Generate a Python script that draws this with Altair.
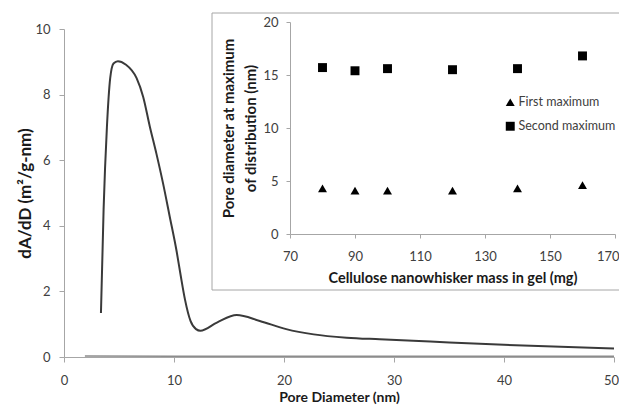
import altair as alt
import pandas as pd

# ---- main curve: pore-size distribution ----
diameter_nm = [3.36, 3.6, 3.9, 4.2, 4.5, 4.9, 5.6, 6.6, 7.2, 7.8, 8.4, 9.0, 9.6, 10.25,
               10.6, 11.0, 11.5, 12.0, 12.4, 13.9, 15.7, 17.8, 20.2, 22.7, 25.7, 28.7, 33.3, 40.0, 50.0]
dA_dD = [1.34, 4.5, 7.0, 8.5, 8.95, 9.02, 8.92, 8.5, 7.93, 7.03, 6.2, 5.3, 4.3, 3.2,
         2.5, 1.75, 1.1, 0.85, 0.80, 1.05, 1.28, 1.10, 0.85, 0.69, 0.59, 0.54, 0.47, 0.37, 0.26]

# faint near-zero trace
base_d = [1.9, 10.0, 20.0, 30.0, 40.0, 50.0]
base_v = [0.03, 0.02, 0.02, 0.02, 0.02, 0.02]

# ---- inset: pore diameter at distribution maxima ----
mass_mg = [80, 90, 100, 120, 140, 160]
first_max = [4.3, 4.1, 4.1, 4.1, 4.3, 4.6]
second_max = [15.7, 15.4, 15.6, 15.5, 15.6, 16.8]
series_names = ["First maximum", "Second maximum"]

main_xticks = [0, 10, 20, 30, 40, 50]
main_yticks = [0, 2, 4, 6, 8, 10]
inset_xticks = [70, 90, 110, 130, 150, 170]
inset_yticks = [0, 5, 10, 15, 20]

W, H = 550, 328
FONT = "Lato"
AX = "#a6a6a6"
LAB = "#404040"
TIT = "#1a1a1a"

curve_df = pd.DataFrame({"D": diameter_nm, "v": dA_dD})
base_df = pd.DataFrame({"D": base_d, "v": base_v})
inset_df = pd.DataFrame({
    "mass": mass_mg + mass_mg,
    "pore": first_max + second_max,
    "series": [series_names[0]] * len(mass_mg) + [series_names[1]] * len(mass_mg),
})


def last_right(v):
    return {"condition": {"test": f"datum.value >= {v}", "value": "right"}, "value": "center"}


def last_shift(v, px):
    return {"condition": {"test": f"datum.value >= {v}", "value": px}, "value": 0}


x_main = alt.X("D:Q", scale=alt.Scale(domain=[0, 50], nice=False),
               axis=alt.Axis(values=main_xticks, title="Pore Diameter (nm)", grid=False,
                             labelFlush=False, labelAlign=last_right(50),
                             labelOffset=last_shift(50, 4.5),
                             domainColor=AX, tickColor=AX, tickSize=5, labelPadding=12,
                             labelFontSize=13, labelColor=LAB, labelFont=FONT,
                             titleFont=FONT, titleFontSize=14, titleFontWeight="bold",
                             titleColor=TIT, titlePadding=3))
y_main = alt.Y("v:Q", scale=alt.Scale(domain=[0, 10], nice=False),
               axis=alt.Axis(values=main_yticks, title="dA/dD (m²/g-nm)", grid=False,
                             domainColor=AX, tickColor=AX, tickSize=5, labelPadding=9,
                             labelFontSize=13, labelColor=LAB, labelFont=FONT,
                             titleFont=FONT, titleFontSize=17, titleFontWeight="bold",
                             titleColor=TIT, titlePadding=0))

curve = alt.Chart(curve_df).mark_line(color="#3a3a3a", strokeWidth=2, interpolate="monotone").encode(
    x=x_main, y=y_main)
base = alt.Chart(base_df).mark_line(color="#8c8c8c", strokeWidth=1.5).encode(x="D:Q", y="v:Q")
main = alt.layer(base, curve)

frame = alt.Chart(alt.Data(values=[{}])).mark_rect(
    fill="white", stroke=AX, strokeWidth=1).encode(
    x=alt.value(148), x2=alt.value(570), y=alt.value(-16), y2=alt.value(261))

pts = alt.Chart(inset_df).mark_point(filled=True, size=80, opacity=1, color="black").encode(
    x=alt.X("mass:Q", scale=alt.Scale(domain=[70, 170], range=[226, 551], nice=False, zero=False),
            axis=alt.Axis(orient="bottom", offset=-123, values=inset_xticks, grid=False, zindex=2,
                          labelFlush=False, labelAlign=last_right(170),
                          labelOffset=last_shift(170, 4),
                          title="Cellulose nanowhisker mass in gel (mg)",
                          domainColor=AX, tickColor=AX, tickSize=4, labelPadding=12,
                          labelFontSize=13, labelColor=LAB, labelFont=FONT,
                          titleFont=FONT, titleFontSize=14.5, titleFontWeight="bold",
                          titleColor=TIT, titlePadding=8)),
    y=alt.Y("pore:Q", scale=alt.Scale(domain=[0, 20], range=[205, -7], nice=False),
            axis=alt.Axis(orient="left", offset=-226, values=inset_yticks, grid=False, zindex=2,
                          title=["Pore  diameter  at maximum", "of distribution (nm)"],
                          domainColor=AX, tickColor=AX, tickSize=4, labelPadding=8,
                          labelFontSize=13, labelColor=LAB, labelFont=FONT,
                          titleFont=FONT, titleFontSize=15, titleFontWeight="bold",
                          titleLineHeight=22, titleColor=TIT, titlePadding=4)),
    shape=alt.Shape("series:N",
                    scale=alt.Scale(domain=series_names, range=["triangle-up", "square"]),
                    legend=alt.Legend(orient="none", legendX=440, legendY=67, title=None,
                                      padding=0, symbolSize=80, symbolFillColor="black",
                                      symbolStrokeColor="black", labelFont=FONT,
                                      labelFontSize=12.5, labelColor=LAB, labelOffset=2,
                                      rowPadding=8)),
)
inset = alt.layer(frame, pts)

chart = alt.layer(main, inset).resolve_scale(
    x="independent", y="independent"
).properties(
    width=W, height=H,
    autosize=alt.AutoSizeParams(type="none"),
    padding={"left": 56, "top": 21, "right": 5, "bottom": 48},
).configure_view(stroke=None)

chart.save("out.html", embed_options={"renderer": "svg", "actions": False})
